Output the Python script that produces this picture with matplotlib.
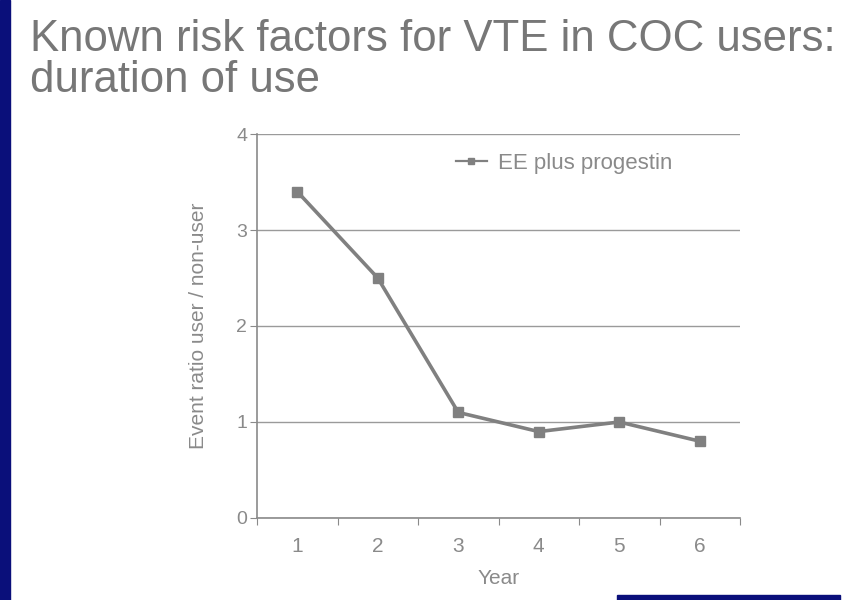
import matplotlib.pyplot as plt
from matplotlib.patches import Rectangle

# data
years = [1, 2, 3, 4, 5, 6]
ratio = [3.4, 2.5, 1.1, 0.9, 1.0, 0.8]
series_name = "EE plus progestin"
title = "Known risk factors for VTE in COC users:\nduration of use"

plt.rcParams['font.family'] = ['Liberation Sans', 'DejaVu Sans']
grey = "#8a8a8a"
navy = "#0a0f7a"

fig = plt.figure(figsize=(8.42, 6), dpi=100)

# slide decoration
fig.patches.append(Rectangle((0, 0), 10 / 842, 1, transform=fig.transFigure,
                             color=navy, zorder=0))
fig.patches.append(Rectangle((617 / 842, 0), 223 / 842, 5 / 600,
                             transform=fig.transFigure, color=navy, zorder=0))

fig.text(30 / 842, 0.968, title, ha="left", va="top", fontsize=31.5,
         color="#777777", linespacing=1.0)

ax = fig.add_axes([257 / 842, 82 / 600, 483 / 842, 384 / 600])
ax.plot(years, ratio, color="#808080", lw=2.6, marker="s", ms=7,
        label=series_name)

ax.set_xlim(0.5, 6.5)
ax.set_ylim(0, 4)
ax.set_xticks([x + 0.5 for x in range(0, 7)])
ax.set_xticklabels([])
ax.set_xticks(years, minor=True)
ax.set_xticklabels([str(y) for y in years], minor=True)
ax.tick_params(axis="x", which="minor", length=0, pad=14, labelsize=15,
               labelcolor=grey)
ax.tick_params(axis="x", which="major", length=5, color=grey)
ax.set_yticks([0, 1, 2, 3, 4])
ax.tick_params(axis="y", length=5, color=grey, labelsize=14, labelcolor=grey,
               pad=2)
ax.yaxis.grid(True, color="#9a9a9a", lw=1)
ax.set_axisbelow(True)
for s in ["top", "right"]:
    ax.spines[s].set_visible(False)
for s in ["left", "bottom"]:
    ax.spines[s].set_color(grey)
    ax.spines[s].set_linewidth(1.2)

ax.set_xlabel("Year", fontsize=15, color=grey, labelpad=9)
ax.set_ylabel("Event ratio user / non-user", fontsize=15, color=grey,
              labelpad=20)

leg = ax.legend(loc="center left", bbox_to_anchor=(0.37, 0.924), frameon=False,
                fontsize=16, handlelength=1.4, markerscale=0.6,
                handletextpad=0.5)
for t in leg.get_texts():
    t.set_color(grey)
for h in leg.get_lines():
    h.set_linewidth(1.6)

plt.savefig("out.png", dpi=100)
